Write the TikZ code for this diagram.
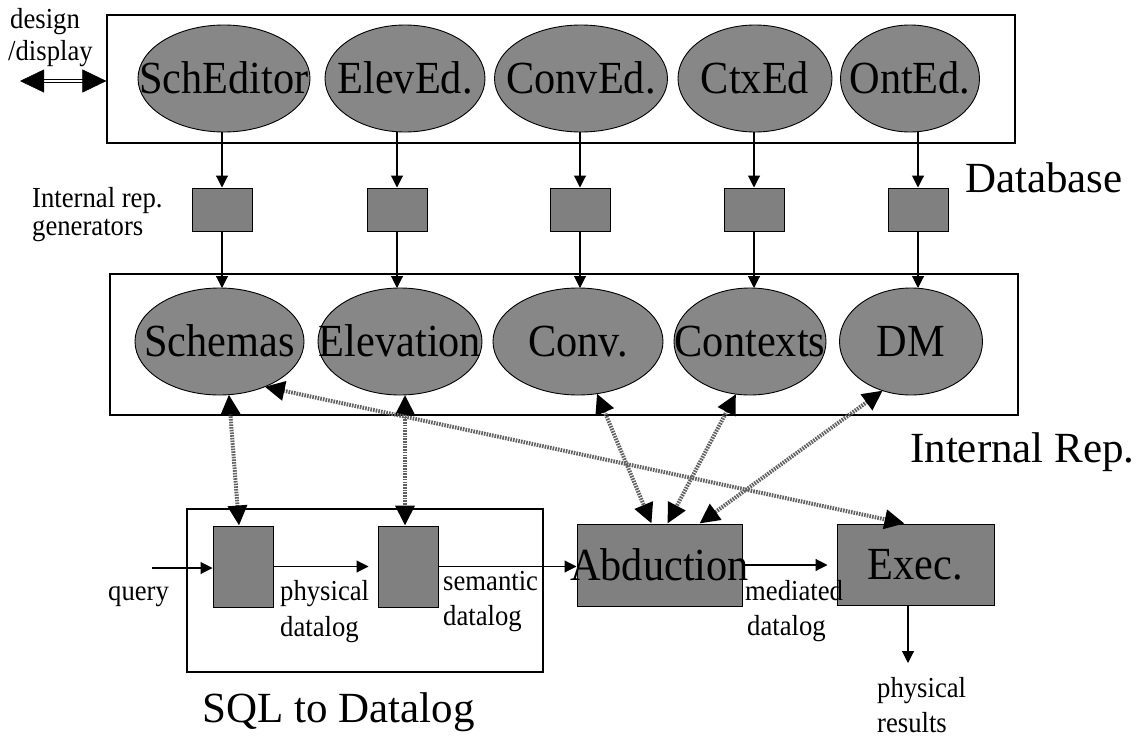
\documentclass[tikz,border=0pt]{standalone}
\usepackage{fontspec}
\setmainfont{Liberation Serif}[FakeStretch=0.92]
\newfontfamily\plainfont{Liberation Serif}
\usetikzlibrary{shapes.geometric,arrows.meta}

\newcommand\bigtxt{\fontsize{46}{48}\selectfont}
\newcommand\smalltxt{\fontsize{29}{31}\selectfont}
\newcommand\titletxt{\plainfont\fontsize{43}{46}\selectfont}

\begin{document}
\begin{tikzpicture}[x=1pt,y=-1pt,
    oval/.style={ellipse, draw, line width=0.9pt, fill=black!47,
                 minimum width=#1, minimum height=107pt,
                 inner sep=0pt, outer sep=0pt},
    genbox/.style={rectangle, draw, line width=1pt, fill=black!50,
                   minimum width=60pt, minimum height=43pt, inner sep=0pt},
    procbox/.style={rectangle, draw, line width=1pt, fill=black!50, inner sep=0pt},
    frame/.style={rectangle, draw, line width=1.2pt, inner sep=0pt},
    big/.style={font=\bigtxt, inner sep=0pt, text height=30pt, text depth=0pt},
    lbl/.style={font=\smalltxt, inner sep=0pt, anchor=base west},
    title/.style={font=\titletxt, inner sep=0pt, anchor=base west},
    arr/.style={-{Triangle[length=12pt,width=12pt]}, line width=1.1pt},
    dots/.style={{Triangle[length=20pt,width=19pt,color=black]}-{Triangle[length=20pt,width=19pt,color=black]},
                 draw=black!62, line width=4pt, dash pattern=on 1.6pt off 1.1pt},
    ]
\useasboundingbox (0,0) rectangle (1138,736);

% frames
\node[frame, minimum width=908pt, minimum height=128pt] (dbbox) at (561,79) {};
\node[frame, minimum width=908pt, minimum height=141pt] (repbox) at (564,344.5) {};
\node[frame, minimum width=356pt, minimum height=163pt] (sqlbox) at (365,590.5) {};

% editors
\node[oval=172pt, label={[big]center:SchEditor}] (schedit) at (224,78.5) {};
\node[oval=160pt, label={[big]center:ElevEd.}]   (elevedit) at (405,78.5) {};
\node[oval=173pt, label={[big]center:ConvEd.}]   (convedit) at (581,78.5) {};
\node[oval=154pt, label={[big]center:CtxEd}]     (ctxedit) at (755,78.5) {};
\node[oval=139pt, label={[big]center:OntEd.}]    (ontedit) at (910,78.5) {};

% internal rep. generators
\node[genbox] (gen1) at (222,209.5) {};
\node[genbox] (gen2) at (397,209.5) {};
\node[genbox] (gen3) at (580,209.5) {};
\node[genbox] (gen4) at (754,209.5) {};
\node[genbox] (gen5) at (918,209.5) {};

% internal rep.
\node[oval=169pt, label={[big]center:Schemas}]   (schemas) at (219.5,341.5) {};
\node[oval=164pt, label={[big]center:Elevation}] (elev) at (400,341.5) {};
\node[oval=170pt, label={[big]center:Conv.}]     (conv) at (578,341.5) {};
\node[oval=152pt, label={[big]center:Contexts}]  (ctx) at (750,341.5) {};
\node[oval=143pt, label={[big]center:DM}]        (dm) at (911,341.5) {};

% query processing
\node[procbox, minimum width=60pt, minimum height=81pt] (sql1) at (243,566.5) {};
\node[procbox, minimum width=60pt, minimum height=81pt] (sql2) at (408,566.5) {};
\node[procbox, minimum width=165pt, minimum height=82pt,
      label={[big]center:Abduction}] (abd) at (659.5,565) {};
\node[procbox, minimum width=157pt, minimum height=81pt,
      label={[big]center:Exec.}] (exec) at (915.5,564.5) {};

% texts
\node[lbl] (design) at (10,28) {design};
\node[lbl] (display) at (8,60) {/display};
\node[lbl] (irgen) at (32,207) {Internal rep.};
\node[lbl] (irgen2) at (32,235) {generators};
\node[lbl] (query) at (108,600) {query};
\node[lbl] (phys1) at (280,600) {physical};
\node[lbl] (phys2) at (280,636) {datalog};
\node[lbl] (sem1) at (443,590) {semantic};
\node[lbl] (sem2) at (443,625) {datalog};
\node[lbl] (med1) at (745,600) {mediated};
\node[lbl] (med2) at (747,635) {datalog};
\node[lbl] (res1) at (877,697) {physical};
\node[lbl] (res2) at (877,732) {results};
\node[title] (dbtitle) at (965,192) {Database};
\node[title] (reptitle) at (910,462) {Internal Rep.};
\node[title] (sqltitle) at (202,722) {SQL to Datalog};

% design/display
\coordinate (ui) at (20,81);
\draw[double, double distance=2.5pt, line width=1pt, shorten <=20pt, shorten >=20pt]
    (ui) -- (ui -| dbbox.west);
\draw[{Triangle[length=24pt,width=23pt,color=black]}-{Triangle[length=24pt,width=23pt,color=black]},
      white, line width=0.5pt] (ui) -- (ui -| dbbox.west);

% editors -> generators -> internal rep.
\foreach \e/\g/\r in {schedit/gen1/schemas, elevedit/gen2/elev, convedit/gen3/conv,
                      ctxedit/gen4/ctx, ontedit/gen5/dm}{
  \draw[arr] (\g.north |- \e.south) -- (\g.north);
  \draw[arr] (\g.south) -- (\g.south |- \r.north);
}

% datalog pipeline
\coordinate (q) at (152,568);
\coordinate (out) at (908,663);
\draw[arr] (q) -- (q -| sql1.west);
\draw[arr, shorten >=9pt] (sql1.east) -- (sql2.west);
\draw[arr] (sql2.east) -- (sql2.east -| abd.west);
\draw[arr, shorten >=9pt] (abd.east) -- (abd.east -| exec.west);
\draw[arr] (out |- exec.south) -- (out);

% lookups into the internal rep.
\draw[dots] (schemas.-80) -- ([xshift=-4pt]sql1.north);
\draw[dots] ([xshift=-3pt]sql2.north |- elev.south) -- ([xshift=-3pt]sql2.north);
\draw[dots] (schemas.-45) -- ([xshift=-11pt]exec.north);
\draw[dots] (conv.-70) -- ([xshift=-8pt]abd.north);
\draw[dots] (ctx.-105) -- ([xshift=8pt]abd.north);
\draw[dots] (dm.-120) -- ([xshift=40pt]abd.north);
\end{tikzpicture}
\end{document}
